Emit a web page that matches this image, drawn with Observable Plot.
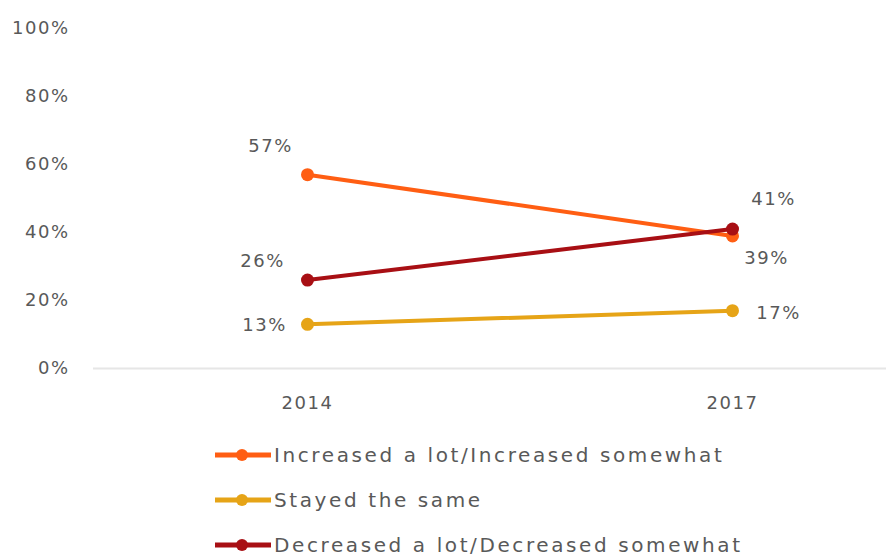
<!DOCTYPE html>
<html>
<head>
<meta charset="utf-8">
<script src="https://cdn.jsdelivr.net/npm/d3@7"></script>
<script src="https://cdn.jsdelivr.net/npm/@observablehq/plot@0.6"></script>
<style>
  html, body { margin: 0; padding: 0; background: #fff; }
  body { width: 886px; height: 558px; overflow: hidden; font-family: "DejaVu Sans", sans-serif; }
  #legend { padding-top: 7px; padding-left: 215px; }
  .row { display: flex; align-items: center; height: 45px; }
  .row span { font-size: 20px; line-height: 24px; color: #595959; letter-spacing: 2.6px; margin-left: 3px; white-space: nowrap; }
</style>
</head>
<body>
<div id="chart"></div>
<div id="legend"></div>
<script>
const years = ["2014", "2017"];
const seriesNames = [
  "Increased a lot/Increased somewhat",
  "Stayed the same",
  "Decreased a lot/Decreased somewhat"
];
const increased = [57, 39];
const stayed = [13, 17];
const decreased = [26, 41];
const yTicks = [0, 20, 40, 60, 80, 100];
const colors = ["#ff5e13", "#e6a417", "#a80f14"];

const valuesBySeries = [increased, stayed, decreased];
const rows = [];
seriesNames.forEach((s, i) => {
  years.forEach((y, j) => rows.push({series: s, year: y, value: valuesBySeries[i][j], si: i, yi: j}));
});

// label offsets (style) keyed by series index and year index
const offsets = {
  "0-0": [-37, -28], "0-1": [34, 22],
  "1-0": [-43, 1],   "1-1": [46, 3],
  "2-0": [-45, -19], "2-1": [41, -30]
};

const labelMarks = rows.map(r => {
  const [dx, dy] = offsets[r.si + "-" + r.yi];
  return Plot.text([r], {
    x: "year", y: "value", text: d => d.value + "%",
    dx, dy, fill: "#595959", fontSize: 18
  });
});

const chart = Plot.plot({
  width: 886,
  height: 425,
  marginLeft: 93,
  marginRight: 0,
  marginTop: 28,
  marginBottom: 57,
  style: { fontFamily: "DejaVu Sans, sans-serif", fontSize: "18px", color: "#595959", letterSpacing: "1.5px", background: "#fff" },
  x: { type: "point", domain: years, range: [307, 732], padding: 0, label: null },
  y: { domain: [0, 100], ticks: yTicks, label: null },
  color: { domain: seriesNames, range: colors },
  marks: [
    Plot.ruleY([0], { stroke: "#e6e6e6", strokeWidth: 2 }),
    Plot.axisY({ ticks: yTicks, tickSize: 0, tickPadding: 24, tickFormat: d => d + "%", fill: "#595959", fontSize: 18, label: null }),
    Plot.axisX({ tickSize: 0, tickPadding: 28, fill: "#595959", fontSize: 18, label: null }),
    Plot.line(rows, { x: "year", y: "value", z: "series", stroke: "series", strokeWidth: 4 }),
    Plot.dot(rows, { x: "year", y: "value", fill: "series", r: 6.5 }),
    ...labelMarks
  ]
});
document.getElementById("chart").appendChild(chart);

const legend = document.getElementById("legend");
seriesNames.forEach((s, i) => {
  const row = document.createElement("div");
  row.className = "row";
  row.innerHTML = `<svg width="56" height="16"><line x1="0" x2="56" y1="8" y2="8" stroke="${colors[i]}" stroke-width="5"/><circle cx="27" cy="8" r="6" fill="${colors[i]}"/></svg><span>${s}</span>`;
  legend.appendChild(row);
});
</script>
</body>
</html>
